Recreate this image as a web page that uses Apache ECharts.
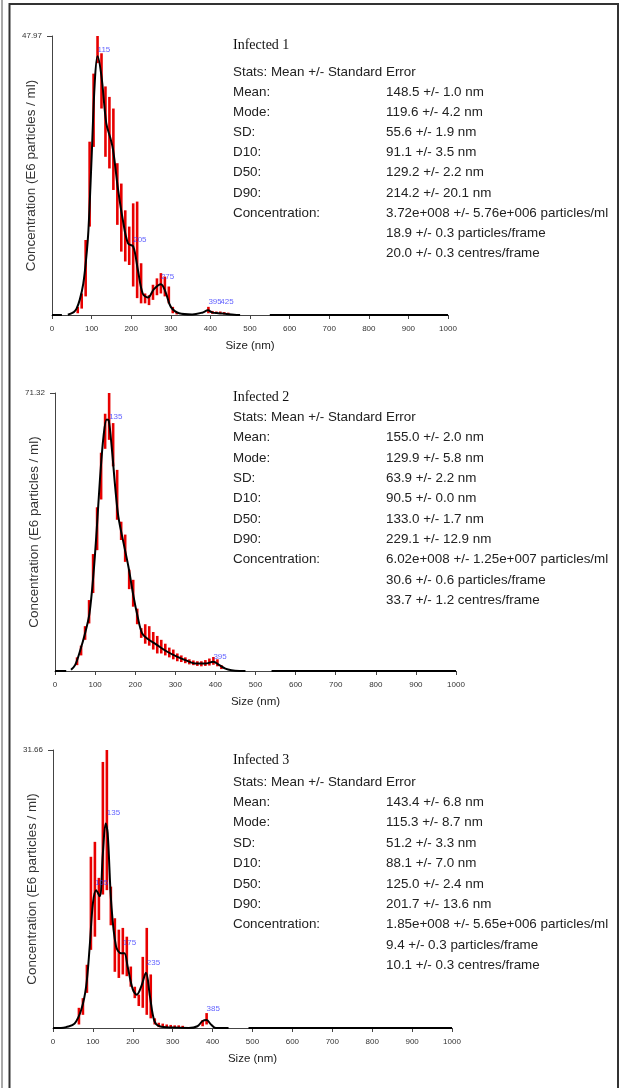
<!DOCTYPE html>
<html>
<head>
<meta charset="utf-8">
<script src="https://cdn.jsdelivr.net/npm/echarts@6/dist/echarts.min.js"></script>
<style>
html, body { margin: 0; padding: 0; background: #fff; }
#main { width: 624px; height: 1088px; }
</style>
</head>
<body>
<div id="main"></div>
<script>
// size axis (nm)
var xTicks = [0, 100, 200, 300, 400, 500, 600, 700, 800, 900, 1000];

// ---- Infected 1 ----
var yMax1 = 47.97;
var curveX1 = [0, 25, 26, 40, 55, 62, 70, 79, 86, 92, 100, 108, 115, 125, 137, 147, 154, 167, 179, 192, 205, 217, 229, 242, 258, 275, 287, 300, 321, 354, 379, 394, 404, 420, 437, 460, 475, 476, 550, 1000];
var curveY1 = [0, 0, '-', 0.05, 0.5, 1.1, 2.6, 5.4, 9.5, 14.6, 27, 40, 44.5, 41, 33, 30.5, 28.5, 21.5, 16.3, 12.3, 11.8, 7.7, 3.7, 3.0, 4.5, 5.3, 3.9, 1.4, 0.3, 0.1, 0.4, 0.8, 0.45, 0.3, 0.2, 0.05, 0, '-', 0, 0];
var barX1 = [65, 75, 85, 95, 105, 115, 125, 135, 145, 155, 165, 175, 185, 195, 205, 215, 225, 235, 245, 255, 265, 275, 285, 295, 305, 315, 395, 405, 415, 425, 435, 445];
var barLo1 = [0.3, 1.1, 3.2, 15.2, 28.9, 43.3, 35.5, 27.2, 25.2, 21.5, 15.5, 10.9, 9.2, 8.6, 4.9, 2.9, 2.0, 2.0, 1.7, 2.6, 3.4, 3.7, 3.2, 2.0, 0.3, 0.1, 0.3, 0.2, 0.2, 0.2, 0.1, 0.1];
var barHi1 = [1.4, 3.7, 12.9, 29.8, 41.5, 47.97, 45, 39.3, 37.5, 35.5, 26.1, 22.6, 18, 15.2, 19.2, 19.5, 8.9, 3.7, 3.4, 5.2, 6.3, 7.2, 6.6, 4.9, 1.4, 0.5, 1.4, 0.7, 0.6, 0.6, 0.5, 0.4];
var peakX1 = [115, 205, 275, 395, 425];
var peakY1 = [44.5, 11.9, 5.55, 1.25, 1.25];
var stats1 = ['', '148.5 +/- 1.0 nm', '119.6 +/- 4.2 nm', '55.6 +/- 1.9 nm', '91.1 +/- 3.5 nm', '129.2 +/- 2.2 nm', '214.2 +/- 20.1 nm',
  '3.72e+008 +/- 5.76e+006 particles/ml', '18.9 +/- 0.3 particles/frame', '20.0 +/- 0.3 centres/frame'];

// ---- Infected 2 ----
var yMax2 = 71.32;
var curveX2 = [0, 28, 29, 40, 50, 62, 75, 86, 96, 104, 112, 121, 129, 134, 142, 150, 158, 171, 183, 196, 206, 217, 229, 254, 279, 304, 330, 350, 375, 395, 410, 425, 440, 460, 475, 476, 540, 1000];
var curveY2 = [0, 0, '-', 0.3, 1.5, 5, 9.7, 14.8, 25, 36.2, 49, 60.2, 64.5, 64.3, 56.8, 47.3, 39.6, 32.8, 26.8, 19, 14, 9.7, 8.4, 6.7, 5, 3.7, 2.6, 1.9, 1.9, 2.4, 1.5, 0.6, 0.2, 0.02, 0, '-', 0, 0];
var barX2 = [55, 65, 75, 85, 95, 105, 115, 125, 135, 145, 155, 165, 175, 185, 195, 205, 215, 225, 235, 245, 255, 265, 275, 285, 295, 305, 315, 325, 335, 345, 355, 365, 375, 385, 395, 405, 415];
var barLo2 = [1.5, 4, 8, 12.2, 20, 31, 44, 57, 59.3, 52.5, 38.8, 33.6, 28, 21, 16.5, 12, 8.5, 7, 6.5, 5.5, 4.5, 4.5, 4, 3.5, 3, 2.5, 2.3, 2, 1.7, 1.5, 1.3, 1.2, 1.3, 1.4, 1.6, 1.2, 0.5];
var barHi2 = [3.5, 6.5, 11.5, 18.2, 30, 42, 56, 66, 71.32, 63.6, 51.6, 38.3, 35, 26, 23.4, 16, 11, 12, 11.5, 10, 9, 8, 7, 6, 5.5, 4.5, 4, 3.5, 3, 2.7, 2.5, 2.5, 2.8, 3.2, 3.6, 3, 1.5];
var peakX2 = [135, 395];
var peakY2 = [63.7, 2.1];
var stats2 = ['', '155.0 +/- 2.0 nm', '129.9 +/- 5.8 nm', '63.9 +/- 2.2 nm', '90.5 +/- 0.0 nm', '133.0 +/- 1.7 nm', '229.1 +/- 12.9 nm',
  '6.02e+008 +/- 1.25e+007 particles/ml', '30.6 +/- 0.6 particles/frame', '33.7 +/- 1.2 centres/frame'];

// ---- Infected 3 ----
var yMax3 = 31.66;
var curveX3 = [0, 20, 33, 54, 71, 83, 92, 100, 108, 117, 125, 132, 137, 146, 158, 171, 179, 187, 200, 210, 221, 233, 243, 254, 267, 300, 340, 362, 375, 385, 396, 408, 440, 441, 490, 1000];
var curveY3 = [0, 0, 0.1, 0.5, 2.1, 4.7, 9.3, 14.2, 15.7, 15.0, 19.9, 23.3, 22.2, 14.2, 9.3, 8.5, 8.5, 7, 4.4, 3.8, 4.7, 6.3, 3.6, 0.8, 0.2, 0.05, 0, 0.2, 0.8, 0.9, 0.4, 0, 0, '-', 0, 0];
var barX3 = [65, 75, 85, 95, 105, 115, 125, 135, 145, 155, 165, 175, 185, 195, 205, 215, 225, 235, 245, 255, 265, 275, 285, 295, 305, 315, 325, 375, 385];
var barLo3 = [0.4, 1.5, 4, 8.9, 10.4, 12.3, 15.2, 15.7, 11.7, 6.4, 5.7, 6.1, 5.9, 4.7, 3.4, 2.5, 2.3, 1.5, 1.1, 0.4, 0.1, 0.1, 0.1, 0.05, 0.05, 0.05, 0.05, 0.2, 0.4];
var barHi3 = [2.3, 3.4, 7.2, 19.5, 21.2, 17.1, 30.3, 31.66, 16.1, 12.5, 11.2, 11.4, 10.4, 7, 4.7, 3.8, 8.1, 11.4, 6.1, 1.1, 0.6, 0.5, 0.4, 0.35, 0.3, 0.3, 0.25, 0.9, 1.7];
var peakX3 = [135, 105, 175, 235, 385];
var peakY3 = [23.8, 15.8, 9.0, 6.75, 1.56];
var stats3 = ['', '143.4 +/- 6.8 nm', '115.3 +/- 8.7 nm', '51.2 +/- 3.3 nm', '88.1 +/- 7.0 nm', '125.0 +/- 2.4 nm', '201.7 +/- 13.6 nm',
  '1.85e+008 +/- 5.65e+006 particles/ml', '9.4 +/- 0.3 particles/frame', '10.1 +/- 0.3 centres/frame'];

var titles = ['Infected 1', 'Infected 2', 'Infected 3'];
var statLabels = ['Stats: Mean +/- Standard Error', 'Mean:', 'Mode:', 'SD:', 'D10:', 'D50:', 'D90:', 'Concentration:', '', ''];

var panels = [
  {max: yMax1, cx: curveX1, cy: curveY1, bx: barX1, lo: barLo1, hi: barHi1, px: peakX1, py: peakY1, stats: stats1,
   grid: {left: 52, top: 36, width: 396, height: 279}, titleY: 45, statsY: 72, step: 20.15},
  {max: yMax2, cx: curveX2, cy: curveY2, bx: barX2, lo: barLo2, hi: barHi2, px: peakX2, py: peakY2, stats: stats2,
   grid: {left: 55, top: 393, width: 401, height: 278}, titleY: 397, statsY: 417.5, step: 20.3},
  {max: yMax3, cx: curveX3, cy: curveY3, bx: barX3, lo: barLo3, hi: barHi3, px: peakX3, py: peakY3, stats: stats3,
   grid: {left: 53, top: 750, width: 399, height: 278}, titleY: 760, statsY: 782, step: 20.4}
];

var SANS = '"Liberation Sans", Arial, sans-serif';

function errBar(params, api) {
  var a = api.coord([api.value(0), api.value(1)]);
  var b = api.coord([api.value(0), api.value(2)]);
  return {
    type: 'line',
    shape: {x1: a[0], y1: a[1], x2: b[0], y2: b[1]},
    style: {stroke: '#e80000', lineWidth: 2.6}
  };
}

var grids = [], xAxes = [], yAxes = [], series = [], graphic = [];

panels.forEach(function (p, i) {
  var g = p.grid;
  g.outerBoundsMode = 'none';
  g.containLabel = false;
  grids.push(g);
  xAxes.push({
    type: 'value', gridIndex: i, min: xTicks[0], max: xTicks[xTicks.length - 1], interval: 100,
    name: 'Size (nm)', nameLocation: 'middle', nameGap: 25, nameMoveOverlap: false,
    nameTextStyle: {fontFamily: SANS, fontSize: 11.5, color: '#222'},
    axisLine: {lineStyle: {color: '#444', width: 1}},
    axisTick: {length: 4, lineStyle: {color: '#444'}},
    axisLabel: {fontFamily: SANS, fontSize: 8, color: '#333', margin: 10,
      formatter: function (v) { return String(v); }},
    splitLine: {show: false}
  });
  yAxes.push({
    type: 'value', gridIndex: i, min: 0, max: p.max,
    name: 'Concentration (E6 particles / ml)', nameLocation: 'middle', nameGap: 14, nameMoveOverlap: false,
    nameTextStyle: {fontFamily: SANS, fontSize: 13.4, color: '#333'},
    axisLine: {show: true, lineStyle: {color: '#444', width: 1}},
    axisTick: {show: true, length: 5, customValues: [p.max], lineStyle: {color: '#444'}},
    axisLabel: {fontFamily: SANS, fontSize: 8, color: '#333', margin: 10, customValues: [p.max],
      formatter: function (v) { return v.toFixed(2); }},
    splitLine: {show: false}
  });

  var bars = p.bx.map(function (x, k) { return [x, p.lo[k], p.hi[k]]; });
  series.push({
    type: 'custom', xAxisIndex: i, yAxisIndex: i, renderItem: errBar,
    encode: {x: 0, y: [1, 2]}, data: bars, z: 2, silent: true
  });
  series.push({
    type: 'line', xAxisIndex: i, yAxisIndex: i, smooth: 0.35, showSymbol: false,
    data: p.cx.map(function (x, k) { return [x, p.cy[k]]; }),
    lineStyle: {color: '#000', width: 2}, z: 3, silent: true
  });
  series.push({
    type: 'scatter', xAxisIndex: i, yAxisIndex: i, symbolSize: 0,
    data: p.px.map(function (x, k) { return [x, p.py[k]]; }),
    label: {show: true, position: [0, -10], fontFamily: SANS, fontSize: 8, color: '#3a3aff',
      formatter: function (d) { return String(d.value[0]); }},
    z: 4, silent: true
  });

  graphic.push({type: 'text', x: 233, y: p.titleY,
    style: {text: titles[i], font: '14px "Liberation Serif", "Times New Roman", serif', fill: '#111', verticalAlign: 'middle'}});
  statLabels.forEach(function (lab, k) {
    var y = p.statsY + k * p.step;
    if (lab) graphic.push({type: 'text', x: 233, y: y,
      style: {text: lab, font: '13.4px ' + SANS, fill: '#222', verticalAlign: 'middle'}});
    if (p.stats[k]) graphic.push({type: 'text', x: 386, y: y,
      style: {text: p.stats[k], font: '13.4px ' + SANS, fill: '#222', verticalAlign: 'middle'}});
  });
});

// page frame
graphic.push({type: 'line', shape: {x1: 2, y1: 0, x2: 2, y2: 1088}, style: {stroke: '#555', lineWidth: 1}});
graphic.push({type: 'line', shape: {x1: 9.5, y1: 3, x2: 9.5, y2: 1088}, style: {stroke: '#333', lineWidth: 2}});
graphic.push({type: 'line', shape: {x1: 9, y1: 4, x2: 618, y2: 4}, style: {stroke: '#333', lineWidth: 2}});
graphic.push({type: 'line', shape: {x1: 618, y1: 3, x2: 618, y2: 1088}, style: {stroke: '#333', lineWidth: 2}});

var chart = echarts.init(document.getElementById('main'));
chart.setOption({
  animation: false,
  backgroundColor: '#fff',
  grid: grids,
  xAxis: xAxes,
  yAxis: yAxes,
  series: series,
  graphic: graphic
});
</script>
</body>
</html>
